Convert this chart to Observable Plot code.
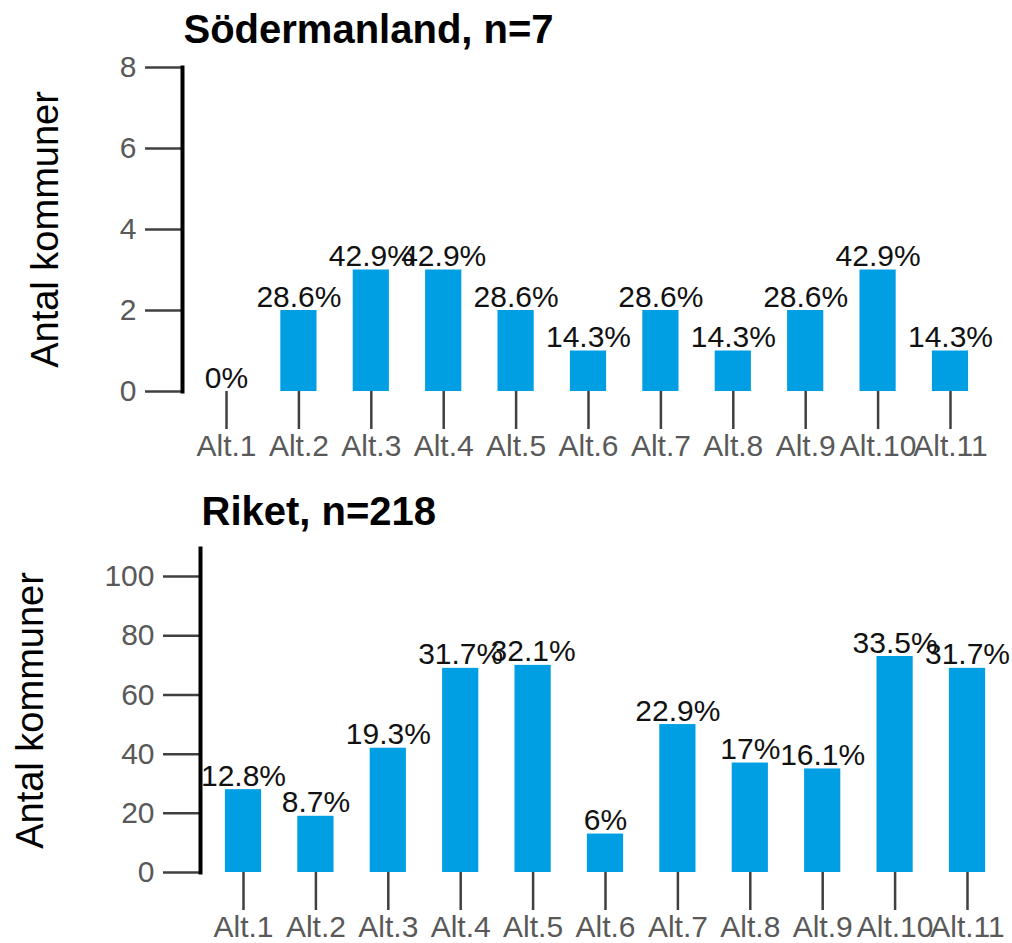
<!DOCTYPE html>
<html>
<head>
<meta charset="utf-8">
<script src="https://cdn.jsdelivr.net/npm/d3@7"></script>
<script src="https://cdn.jsdelivr.net/npm/@observablehq/plot@0.6"></script>
<style>
  html, body { margin: 0; padding: 0; background: #fff; }
  svg { display: block; overflow: visible; }
</style>
</head>
<body>
<div id="chart"></div>
<script>
const categories = ["Alt.1","Alt.2","Alt.3","Alt.4","Alt.5","Alt.6","Alt.7","Alt.8","Alt.9","Alt.10","Alt.11"];

const sodTitle = "Södermanland, n=7";
const sodCounts = [0, 2, 3, 3, 2, 1, 2, 1, 2, 3, 1];
const sodLabels = ["0%","28.6%","42.9%","42.9%","28.6%","14.3%","28.6%","14.3%","28.6%","42.9%","14.3%"];
const sodTicks = [0, 2, 4, 6, 8];

const riketTitle = "Riket, n=218";
const riketCounts = [28, 19, 42, 69, 70, 13, 50, 37, 35, 73, 69];
const riketLabels = ["12.8%","8.7%","19.3%","31.7%","32.1%","6%","22.9%","17%","16.1%","33.5%","31.7%"];
const riketTicks = [0, 20, 40, 60, 80, 100];

const yLabel = "Antal kommuner";
const barColor = "#009fe3";
const font = "'Liberation Sans', Arial, sans-serif";

function panel({title, counts, labels, ticks, yDomain, height, marginTop, marginBottom, marginLeft, marginRight, paddingOuter, titleDy, yLabelDx}) {
  const data = categories.map((c, i) => ({cat: c, n: counts[i], label: labels[i]}));
  return Plot.plot({
    width: 1012,
    height,
    marginTop, marginBottom, marginLeft, marginRight,
    style: {fontFamily: font, background: "white"},
    x: {domain: categories, paddingInner: 0.5, paddingOuter, round: false, axis: null},
    y: {domain: yDomain, axis: null},
    marks: [
      Plot.barY(data, {x: "cat", y: "n", fill: barColor}),
      Plot.text(data, {x: "cat", y: "n", text: "label", lineAnchor: "bottom", dy: -4, fontSize: 30, fill: "#111"}),
      Plot.axisY({ticks, tickSize: 37, tickPadding: 9, fontSize: 30, stroke: "#404040", strokeWidth: 2.5, fill: "#595959", label: null}),
      Plot.axisX({tickSize: 38, tickPadding: 5, fontSize: 30, stroke: "#404040", strokeWidth: 2.5, fill: "#595959", label: null}),
      Plot.frame({anchor: "left", stroke: "black", strokeWidth: 4}),
      Plot.text([title], {text: d => d, frameAnchor: "top-left", dx: 1, dy: titleDy, textAnchor: "start", lineAnchor: "middle", fontSize: 40, fontWeight: "bold", fill: "black"}),
      Plot.text([yLabel], {text: d => d, frameAnchor: "left", dx: yLabelDx, rotate: -90, textAnchor: "middle", lineAnchor: "middle", fontSize: 38, fill: "black"})
    ]
  });
}

const root = document.getElementById("chart");
root.appendChild(panel({
  title: sodTitle, counts: sodCounts, labels: sodLabels, ticks: sodTicks,
  yDomain: [0, 8], height: 470, marginTop: 67, marginBottom: 79, marginLeft: 182, marginRight: 18,
  paddingOuter: 0.358, titleDy: -37, yLabelDx: -137
}));
root.appendChild(panel({
  title: riketTitle, counts: riketCounts, labels: riketLabels, ticks: riketTicks,
  yDomain: [0, 109.5], height: 473, marginTop: 78, marginBottom: 71, marginLeft: 200, marginRight: 2,
  paddingOuter: 0.344, titleDy: -36, yLabelDx: -170
}));
</script>
</body>
</html>
